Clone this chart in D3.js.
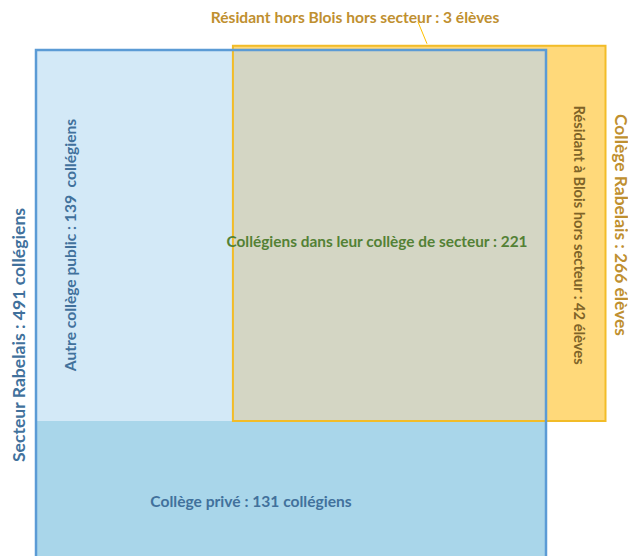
<!DOCTYPE html>
<html>
<head>
<meta charset="utf-8">
<script src="https://cdn.jsdelivr.net/npm/d3@7"></script>
<style>
  html, body { margin: 0; padding: 0; background: #fff; }
  svg { display: block; }
  text { font-family: Lato, "Open Sans", sans-serif; font-weight: bold; }
</style>
</head>
<body>
<svg id="plot" width="628" height="556"></svg>
<script>
const width = 628;
const height = 556;

// effectifs
const groupNames = ["Secteur Rabelais", "Collège Rabelais"];
const groupTotals = [491, 266];
const partNames = ["Autre collège public", "Collégiens dans leur collège de secteur", "Collège privé", "Résidant à Blois hors secteur", "Résidant hors Blois hors secteur"];
const partValues = [139, 221, 131, 42, 3];

const [autre, secteur, prive, blois, horsBlois] = partValues;

const svg = d3.select("#plot");

// one column unit = one pupil across the public band
const x = d3.scaleLinear()
  .domain([0, autre + secteur])
  .range([36, 546]);

// one row unit = full height of the public band
const y = d3.scaleLinear()
  .domain([0, 1])
  .range([50, 421]);

const rowPrive = prive / (autre + secteur);
const rowHors = horsBlois / (secteur + blois);

const cells = [
  { x0: 0, x1: autre + secteur, y0: 1, y1: 1 + rowPrive + 0.01, fill: "#a9d6ea" },
  { x0: 0, x1: autre, y0: 0, y1: 1, fill: "#d3e9f7" },
  { x0: autre, x1: autre + secteur, y0: 0, y1: 1, fill: "#d4d6c4" },
  { x0: autre + secteur, x1: autre + secteur + blois, y0: -rowHors, y1: 1, fill: "#ffd97a" },
  { x0: autre, x1: autre + secteur, y0: -rowHors, y1: 0, fill: "#ffd97a" }
];

svg.selectAll("rect.cell")
  .data(cells)
  .enter()
  .append("rect")
  .attr("class", "cell")
  .attr("x", d => x(d.x0))
  .attr("y", d => y(d.y0))
  .attr("width", d => x(d.x1) - x(d.x0))
  .attr("height", d => y(d.y1) - y(d.y0))
  .attr("fill", d => d.fill);

// Collège Rabelais outline
svg.append("rect")
  .attr("x", x(autre))
  .attr("y", y(-rowHors))
  .attr("width", x(autre + secteur + blois) - x(autre))
  .attr("height", y(1) - y(-rowHors))
  .attr("fill", "none")
  .attr("stroke", "#f2bc28")
  .attr("stroke-width", 2);

// Secteur outline (open at the bottom edge of the picture)
svg.append("rect")
  .attr("x", x(0))
  .attr("y", y(0))
  .attr("width", x(autre + secteur) - x(0))
  .attr("height", y(1 + rowPrive) - y(0) + 6)
  .attr("fill", "none")
  .attr("stroke", "#5b9bd5")
  .attr("stroke-width", 2.5);

// leader for the 3 pupils
svg.append("line")
  .attr("x1", 418).attr("y1", 22)
  .attr("x2", x(autre + secteur * 0.62)).attr("y2", y(-rowHors) - 2)
  .attr("stroke", "#ffc000")
  .attr("stroke-width", 1);

const labels = [
  { text: `${partNames[4]} : ${horsBlois} élèves`, x: 355, y: 23, rot: 0, size: 15.6, color: "#bf9030" },
  { text: `${groupNames[1]} : ${groupTotals[1]} élèves`, x: 615, y: 225, rot: 90, size: 17.4, color: "#bf9030" },
  { text: `${partNames[3]} : ${blois} élèves`, x: 574, y: 235, rot: 90, size: 14.7, color: "#7f6428" },
  { text: `${groupNames[0]} : ${groupTotals[0]} collégiens`, x: 25, y: 335, rot: -90, size: 17.6, color: "#41719c" },
  { text: `${partNames[0]} : ${autre}  collégiens`, x: 76, y: 245, rot: -90, size: 15.6, color: "#41719c" },
  { text: `${partNames[1]} : ${secteur}`, x: 377, y: 247, rot: 0, size: 15.4, color: "#538135" },
  { text: `${partNames[2]} : ${prive} collégiens`, x: 251, y: 507, rot: 0, size: 15.6, color: "#41719c" }
];

svg.selectAll("text.lbl")
  .data(labels)
  .enter()
  .append("text")
  .attr("class", "lbl")
  .attr("text-anchor", "middle")
  .attr("transform", d => `translate(${d.x},${d.y}) rotate(${d.rot})`)
  .attr("font-size", d => d.size)
  .attr("fill", d => d.color)
  .style("white-space", "pre")
  .text(d => d.text);
</script>
</body>
</html>
